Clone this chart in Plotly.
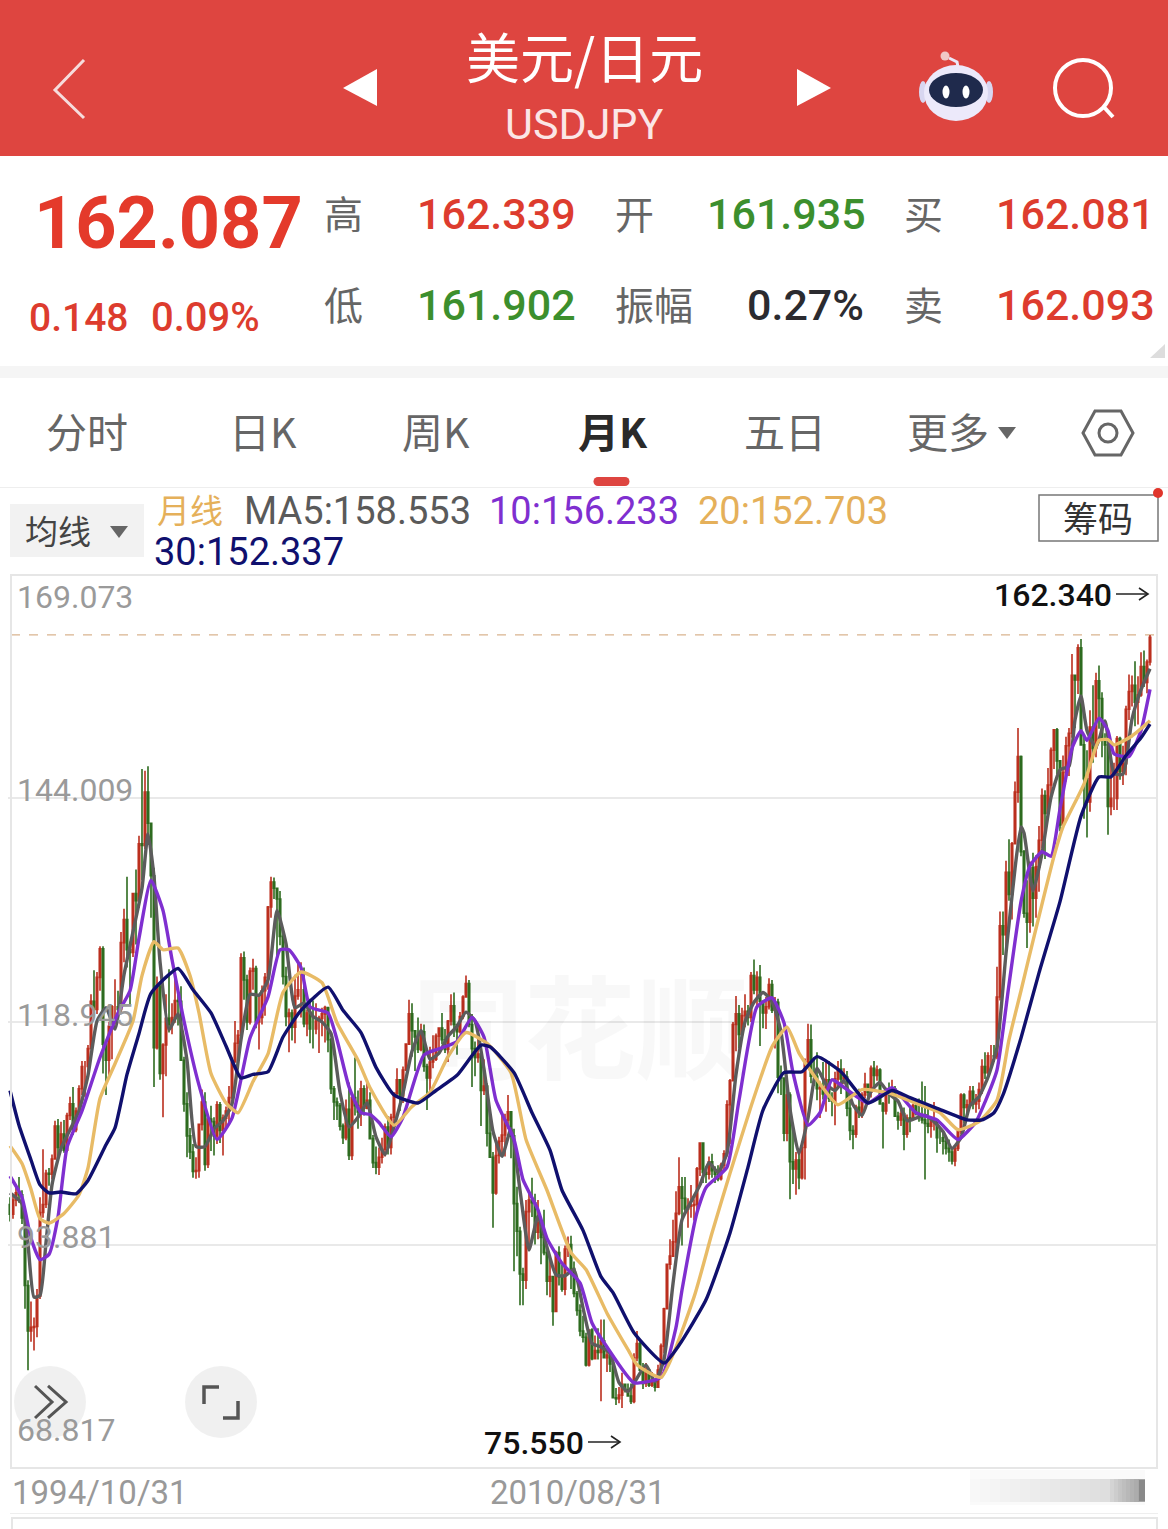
import plotly.graph_objects as go

# ---------- data (monthly USD/JPY candles, 1994/10 .. 2026/06) ----------
opens = [
 98.4,97.3,98.9,
 99.7,99.5,96.9,89.3,84.2,84.6,84.7,88.1,97.5,98.4,101.9,101.8,
 103.5,107.2,104.8,106.3,104.5,108.4,109.7,106.8,108.9,111.4,113.9,113.9,
 115.9,121.2,120.3,123.9,127.1,116.4,114.6,118.4,120.6,120.6,120.3,127.8,
 130.4,127.0,126.7,133.3,132.5,138.9,138.7,144.7,141.2,135.3,116.0,122.9,
 113.1,116.3,119.3,118.6,119.4,121.3,121.2,114.6,109.7,106.1,104.3,102.1,
 102.2,107.4,109.9,102.9,108.0,107.7,106.1,109.6,106.7,108.1,108.9,110.4,
 114.4,116.5,117.4,126.1,123.6,118.9,124.6,124.9,118.9,119.4,122.4,123.9,
 131.8,134.6,133.9,132.7,128.5,124.0,119.5,119.9,118.3,121.8,122.5,122.5,
 118.7,119.9,118.1,118.1,119.0,119.3,119.8,120.5,116.9,111.4,109.9,109.5,
 107.2,105.9,109.1,103.9,110.4,109.5,108.8,111.4,109.2,110.1,105.8,103.1,
 102.6,103.7,104.6,107.1,104.8,108.2,110.9,112.4,110.6,113.5,116.4,119.8,
 117.9,117.2,115.8,117.8,113.9,112.6,114.4,114.7,117.3,118.2,116.9,115.8,
 119.0,120.7,118.6,117.8,119.5,121.7,123.2,118.6,115.9,114.9,115.3,111.2,
 111.7,106.4,103.7,99.7,103.9,105.5,106.2,107.9,108.8,106.1,98.5,95.4,
 90.6,89.9,97.6,98.9,98.6,95.3,96.4,94.7,93.0,89.8,90.3,86.4,
 93.0,90.3,88.9,93.4,93.9,91.2,88.4,86.5,84.2,83.5,80.4,84.3,
 81.1,82.0,81.8,83.1,81.2,81.5,80.5,76.7,76.6,77.0,78.2,77.6,
 76.9,76.3,81.2,82.8,79.8,78.3,79.8,78.1,78.4,77.9,79.8,82.5,
 86.7,91.7,92.6,94.2,97.4,100.4,99.1,97.9,98.2,98.3,98.4,102.4,
 105.3,102.0,101.8,103.2,102.2,101.8,101.3,102.8,104.1,109.6,112.3,118.6,
 119.8,117.5,119.6,120.1,119.4,124.1,122.5,123.9,121.2,119.9,120.6,123.1,
 120.2,121.1,112.7,112.6,106.4,110.7,103.2,102.4,103.4,101.4,104.8,114.4,
 116.9,112.8,112.8,111.4,111.5,110.8,112.4,110.3,110.0,112.5,113.6,112.5,
 112.7,109.2,106.7,106.3,109.3,108.8,110.7,111.9,111.0,113.7,112.9,113.5,
 109.7,108.9,111.4,110.8,111.4,108.3,107.9,108.6,106.3,108.1,108.0,109.5,
 108.6,108.4,107.9,107.5,107.2,107.8,107.9,105.9,105.9,105.5,104.7,104.3,
 103.3,104.7,106.6,110.7,109.3,109.6,111.1,109.7,110.0,111.3,113.9,113.2,
 115.1,115.1,115.0,121.7,129.7,128.7,135.7,133.2,138.9,144.7,148.7,138.0,
 131.1,130.1,136.2,132.8,136.3,139.3,144.3,142.3,145.5,149.4,151.7,148.2,
 141.0,146.9,149.9,151.3,157.8,157.3,160.9,150.0,146.2,143.6,152.0,149.6,
 157.2,155.2,150.6,150.0,143.1,144.0,144.0,150.7,147.0,147.9,154.0,156.0,
 156.7,154.8,155.6,158.8,157.0,159.3,
]
highs = [
 99.2,99.3,100.5,
 101.5,100.0,97.6,89.9,87.5,85.7,88.9,99.2,104.6,102.3,102.5,104.0,
 107.8,108.0,107.7,107.9,108.7,110.5,111.6,109.3,111.8,114.5,114.5,116.3,
 122.0,124.7,124.5,127.4,127.4,116.9,118.9,120.8,123.7,122.4,129.0,131.6,
 135.2,127.9,133.4,136.0,139.8,147.3,147.1,147.6,139.2,136.2,124.0,123.4,
 116.5,122.0,124.8,121.0,124.2,122.4,122.9,115.0,111.0,107.0,105.2,103.7,
 107.5,111.3,111.0,108.5,109.5,108.2,110.0,109.9,108.5,109.4,111.7,114.9,
 119.0,118.0,126.6,126.8,124.2,125.0,126.0,125.2,122.0,123.0,124.4,131.9,
 135.2,135.1,133.9,133.6,128.8,125.1,120.4,120.3,124.2,125.6,125.6,125.0,
 120.3,121.5,121.3,121.0,119.6,120.5,120.7,120.3,117.1,111.7,110.4,109.8,
 107.5,110.2,112.1,110.5,114.9,111.2,112.3,111.8,112.3,111.0,106.2,104.9,
 104.8,105.9,107.5,108.3,108.6,111.0,113.7,112.4,113.9,116.5,121.4,121.0,
 118.0,119.4,118.7,118.6,114.2,116.1,117.4,117.6,118.3,119.9,118.1,119.1,
 122.0,122.2,118.7,120.0,121.9,124.1,123.6,119.8,116.7,117.9,115.4,114.7,
 112.0,108.7,104.3,105.7,106.0,108.6,108.6,110.7,108.9,106.9,100.4,95.9,
 91.3,98.9,99.7,101.4,99.6,98.9,96.4,97.8,93.3,92.3,90.3,93.2,
 93.7,91.6,93.8,94.8,94.9,92.0,88.7,87.2,85.9,84.0,84.4,84.5,
 83.7,84.5,85.5,85.5,82.2,81.6,81.0,77.8,77.9,79.5,78.3,78.3,
 78.3,81.7,84.2,83.0,80.6,80.6,79.8,79.6,78.8,80.4,82.8,86.8,
 91.7,94.5,96.7,99.9,103.7,101.5,101.5,99.1,100.6,99.0,102.6,105.4,
 105.4,102.7,103.8,104.1,102.7,102.8,103.1,104.5,110.1,112.5,118.9,121.8,
 120.8,120.5,122.0,120.8,124.5,125.9,124.6,125.3,121.3,121.7,123.8,123.6,
 121.7,121.5,114.0,112.0,111.4,111.0,107.5,104.3,104.2,105.5,114.8,118.7,
 118.6,114.9,115.5,112.2,114.4,114.5,114.5,111.0,113.3,114.5,114.7,113.7,
 113.4,110.5,107.3,109.6,111.4,111.0,113.2,111.8,114.0,114.5,114.0,113.7,
 109.9,111.5,112.1,112.4,111.7,108.8,109.3,109.3,108.5,109.3,109.7,109.7,
 110.3,112.2,111.7,109.4,108.1,109.9,107.5,106.9,106.5,106.0,105.7,104.7,
 105.0,106.7,110.9,110.9,110.2,111.7,111.7,110.8,112.1,114.7,115.5,115.5,
 116.3,116.3,125.1,131.3,131.3,137.0,139.4,139.1,145.9,151.9,148.8,138.2,
 134.8,136.9,137.9,137.6,140.9,145.1,144.9,147.4,149.7,151.7,151.9,148.3,
 148.8,150.9,151.9,160.2,157.7,161.3,161.9,150.9,149.4,153.9,156.7,158.1,
 158.9,155.9,151.3,150.5,148.6,148.0,151.0,150.9,149.9,154.4,157.9,157.8,
 159.4,157.7,160.4,160.6,159.6,162.34,
]
lows = [
 96.5,96.8,98.2,
 98.6,96.2,86.7,79.8,83.0,82.0,83.5,87.8,96.9,98.0,100.5,101.2,
 103.5,103.5,104.6,104.2,104.3,107.9,106.2,106.5,108.4,110.7,110.5,113.2,
 115.8,119.5,119.8,122.4,113.1,110.7,112.5,114.7,118.6,119.3,120.0,125.6,
 125.0,120.7,126.2,127.6,131.7,134.8,138.3,139.7,130.6,111.6,115.8,112.4,
 108.2,112.8,117.7,117.5,118.8,118.5,114.6,108.8,103.7,103.5,101.4,101.3,
 101.4,106.7,102.2,102.5,104.4,103.9,105.2,105.3,103.9,106.9,107.5,110.2,
 114.3,114.0,117.2,121.4,118.0,118.6,122.5,118.2,115.8,118.6,119.6,122.5,
 130.6,132.7,126.0,127.5,123.1,118.4,115.5,116.8,116.5,121.4,119.4,118.3,
 117.3,116.5,115.9,117.5,115.4,117.3,116.6,115.5,110.8,107.9,107.9,106.7,
 105.2,105.6,103.4,103.4,108.4,106.9,107.2,108.4,109.1,105.7,102.5,101.8,
 101.7,103.0,103.8,104.0,104.0,106.7,110.6,108.9,109.8,113.4,116.3,115.0,
 113.4,115.4,115.6,113.3,109.0,111.0,113.7,114.5,115.5,116.4,115.4,114.4,
 118.5,117.2,115.2,117.6,119.2,121.6,118.3,111.6,112.8,114.3,107.2,110.7,
 104.9,103.7,95.8,99.5,103.0,104.1,103.8,106.9,103.6,90.9,92.6,87.1,
 87.1,88.9,93.6,97.0,93.9,94.5,91.7,92.7,88.2,88.0,84.8,86.3,
 89.3,88.6,88.2,92.5,88.9,88.0,85.9,83.6,82.9,80.2,80.2,80.9,
 81.5,81.0,76.3,81.1,79.6,79.6,76.7,75.9,76.1,75.55,77.3,77.4,
 76.0,76.1,80.8,79.7,77.7,77.9,77.9,77.9,77.4,77.9,79.0,81.7,
 86.6,91.1,92.6,92.6,97.2,93.8,97.6,95.8,96.9,96.6,97.6,101.6,
 100.8,100.8,101.2,101.4,100.8,101.0,101.1,102.3,103.8,105.2,112.3,115.6,
 115.9,116.9,118.3,118.5,118.9,122.0,120.4,116.2,118.2,118.1,120.3,119.9,
 115.9,110.9,110.7,105.5,105.5,99.0,100.7,99.5,100.1,101.2,101.2,113.6,
 112.0,111.7,110.1,108.1,110.2,108.8,109.9,108.3,107.3,111.6,110.8,111.9,
 108.3,105.6,104.6,105.9,108.1,108.1,110.3,109.8,110.4,111.4,112.3,109.6,
 104.7,108.5,109.7,110.8,108.3,106.8,107.2,104.5,105.9,106.5,107.9,108.4,
 107.7,107.5,101.2,106.4,105.9,106.7,104.2,105.2,104.0,104.0,103.2,102.9,
 102.7,104.4,106.3,107.5,108.6,109.2,109.1,108.7,109.1,110.8,112.5,112.6,
 113.5,114.4,114.7,121.3,126.4,126.9,132.5,130.4,138.9,143.5,137.5,130.6,
 127.2,128.9,129.6,130.6,133.5,138.4,137.2,141.7,144.4,147.3,146.7,140.3,
 140.8,145.9,146.5,150.8,151.9,155.7,150.0,141.7,139.6,142.5,148.0,148.6,
 151.8,148.6,146.5,139.9,142.1,142.7,142.7,146.1,145.5,146.6,152.8,154.3,
 152.1,152.3,155.4,156.5,155.8,158.9,
]
closes = [
 97.3,98.9,99.7,
 99.5,96.9,89.3,84.2,84.6,84.7,88.1,97.5,98.4,101.9,101.8,103.5,
 107.2,104.8,106.3,104.5,108.4,109.7,106.8,108.9,111.4,113.9,113.9,115.9,
 121.2,120.3,123.9,127.1,116.4,114.6,118.4,120.6,120.6,120.3,127.8,130.4,
 127.0,126.7,133.3,132.5,138.9,138.7,144.7,141.2,135.3,116.0,122.9,113.1,
 116.3,119.3,118.6,119.4,121.3,121.2,114.6,109.7,106.1,104.3,102.1,102.2,
 107.4,109.9,102.9,108.0,107.7,106.1,109.6,106.7,108.1,108.9,110.4,114.4,
 116.5,117.4,126.1,123.6,118.9,124.6,124.9,118.9,119.4,122.4,123.9,131.8,
 134.6,133.9,132.7,128.5,124.0,119.5,119.9,118.3,121.8,122.5,122.5,118.7,
 119.9,118.1,118.1,119.0,119.3,119.8,120.5,116.9,111.4,109.9,109.5,107.2,
 105.9,109.1,103.9,110.4,109.5,108.8,111.4,109.2,110.1,105.8,103.1,102.6,
 103.7,104.6,107.1,104.8,108.2,110.9,112.4,110.6,113.5,116.4,119.8,117.9,
 117.2,115.8,117.8,113.9,112.6,114.4,114.7,117.3,118.2,116.9,115.8,119.0,
 120.7,118.6,117.8,119.5,121.7,123.2,118.6,115.9,114.9,115.3,111.2,111.7,
 106.4,103.7,99.7,103.9,105.5,106.2,107.9,108.8,106.1,98.5,95.4,90.6,
 89.9,97.6,98.9,98.6,95.3,96.4,94.7,93.0,89.8,90.3,86.4,93.0,
 90.3,88.9,93.4,93.9,91.2,88.4,86.5,84.2,83.5,80.4,84.3,81.1,
 82.0,81.8,83.1,81.2,81.5,80.5,76.7,76.6,77.0,78.2,77.6,76.9,
 76.3,81.2,82.8,79.8,78.3,79.8,78.1,78.4,77.9,79.8,82.5,86.7,
 91.7,92.6,94.2,97.4,100.4,99.1,97.9,98.2,98.3,98.4,102.4,105.3,
 102.0,101.8,103.2,102.2,101.8,101.3,102.8,104.1,109.6,112.3,118.6,119.8,
 117.5,119.6,120.1,119.4,124.1,122.5,123.9,121.2,119.9,120.6,123.1,120.2,
 121.1,112.7,112.6,106.4,110.7,103.2,102.4,103.4,101.4,104.8,114.4,116.9,
 112.8,112.8,111.4,111.5,110.8,112.4,110.3,110.0,112.5,113.6,112.5,112.7,
 109.2,106.7,106.3,109.3,108.8,110.7,111.9,111.0,113.7,112.9,113.5,109.7,
 108.9,111.4,110.8,111.4,108.3,107.9,108.6,106.3,108.1,108.0,109.5,108.6,
 108.4,107.9,107.5,107.2,107.8,107.9,105.9,105.9,105.5,104.7,104.3,103.3,
 104.7,106.6,110.7,109.3,109.6,111.1,109.7,110.0,111.3,113.9,113.2,115.1,
 115.1,115.0,121.7,129.7,128.7,135.7,133.2,138.9,144.7,148.7,138.0,131.1,
 130.1,136.2,132.8,136.3,139.3,144.3,142.3,145.5,149.4,151.7,148.2,141.0,
 146.9,149.9,151.3,157.8,157.3,160.9,150.0,146.2,143.6,152.0,149.6,157.2,
 155.2,150.6,150.0,143.1,144.0,144.0,150.7,147.0,147.9,154.0,156.0,156.7,
 154.8,155.6,158.8,157.0,159.3,162.087,
]

ma5_idx = [0,4,6,8,10,12,14,17,20,23,26,29,32,35,38,41,44,46,48,50,53,56,59,62,65,68,71,74,77,80,83,86,89,92,95,98,101,104,107,110,113,116,119,122,125,128,131,134,137,140,143,146,149,152,155,158,161,164,167,170,173,176,179,182,185,188,191,194,197,200,203,206,209,212,215,218,221,224,227,230,233,236,239,242,245,248,251,254,257,260,263,266,269,272,275,278,281,284,287,290,293,296,299,302,305,308,311,314,317,320,323,326,329,332,335,337,338,341,344,347,350,353,355,357,359,362,365,368,371,374,377,380]
ma5_val = [99.7,98.5,93.9,88.0,88.2,94.1,100.6,104.7,106.8,108.9,112.9,119.0,120.5,118.1,124.2,129.0,133.9,140.0,135.2,125.7,118.0,119.8,114.6,104.9,104.9,106.9,107.8,109.7,116.9,122.0,121.9,123.6,131.4,127.7,120.5,121.0,119.5,118.9,117.6,111.0,107.1,108.2,109.8,106.0,104.0,107.1,110.9,115.6,117.9,114.7,115.4,117.3,118.4,120.0,119.0,113.6,106.6,103.8,106.9,100.0,93.3,97.1,93.6,90.5,90.4,91.1,86.8,82.8,82.4,81.7,78.4,77.4,78.9,80.4,78.5,81.0,89.5,96.7,98.7,100.6,103.1,102.0,104.2,113.0,118.9,121.1,122.2,121.2,117.8,109.1,104.1,108.1,113.7,111.9,111.2,112.3,109.6,108.4,111.1,112.1,110.8,110.0,107.8,108.1,108.4,107.7,106.6,104.7,105.9,109.5,110.5,112.7,116.0,126.6,136.1,140.8,140.1,133.6,137.8,144.1,147.2,147.6,152.8,155.5,151.6,149.7,152.7,146.8,146.7,152.9,156.2,158.553]

ma10_idx = [0,4,7,10,13,16,19,24,30,36,40,43,47,51,54,58,63,69,74,80,86,90,93,97,100,106,109,113,117,120,123,127,131,138,144,149,154,158,162,168,171,176,179,184,190,194,199,208,217,222,224,229,232,239,243,249,254,258,261,266,270,274,279,286,294,302,309,316,322,325,329,333,337,340,344,347,350,354,357,359,363,366,368,373,377,380]
ma10_val = [101.6,99.2,94.6,92.2,92.8,97.0,104.8,108.9,114.9,119.9,122.4,128.3,134.8,131.4,125.9,119.0,111.8,105.7,108.1,117.1,121.7,127.0,127.0,125.0,120.6,119.9,116.9,111.6,108.7,108.5,107.6,106.0,108.2,115.2,116.0,116.7,119.4,117.2,110.1,105.7,101.2,97.8,94.6,91.8,89.6,85.1,82.4,78.4,79.0,84.6,88.8,97.5,100.3,102.6,110.1,120.6,121.6,118.8,113.2,107.3,108.7,112.4,111.3,109.8,111.5,108.7,107.9,105.7,107.7,109.9,113.5,123.1,132.4,136.4,138.0,137.5,142.8,149.6,151.6,150.5,153.0,151.6,149.0,148.7,151.6,156.233]

ma20_idx = [0,4,7,10,13,18,23,26,30,35,41,44,48,51,56,60,63,67,72,76,81,86,91,97,104,109,116,120,128,134,140,146,152,159,167,172,179,187,192,199,206,209,217,228,234,240,247,254,259,263,269,276,284,293,301,310,316,323,329,333,337,341,348,351,358,363,366,368,374,380]
ma20_val = [105.0,103.0,100.1,96.8,96.3,97.4,99.5,102.5,110.3,114.2,119.0,124.1,127.9,127.0,127.2,124.1,119.9,113.1,109.8,108.7,112.2,115.3,122.2,124.5,123.3,118.8,114.6,111.5,107.3,109.4,111.0,115.0,117.7,116.5,113.2,105.7,100.0,93.0,91.1,86.2,82.1,80.4,79.0,88.0,95.2,101.9,109.4,116.1,118.3,115.4,112.4,109.6,111.3,110.9,109.9,108.7,106.8,107.7,110.1,116.9,122.4,128.0,137.5,140.8,145.6,150.5,150.6,150.0,151.0,152.703]

ma30_idx = [0,3,7,10,13,17,22,26,32,35,39,43,47,56,61,67,72,77,81,86,91,97,106,111,117,122,128,136,142,149,157,160,168,174,180,184,191,197,201,208,218,223,232,240,246,251,258,264,269,277,286,294,300,309,319,324,328,331,337,343,350,357,363,367,372,377,380]
ma30_val = [111.2,107.3,103.4,100.6,99.7,99.8,99.6,101.1,105.1,107.0,113.0,117.6,122.1,124.9,122.5,119.9,116.2,112.6,113.0,113.3,117.2,120.2,122.8,120.2,117.7,113.8,110.7,109.8,111.2,112.9,116.3,116.1,113.2,108.7,104.5,100.0,95.5,90.3,88.5,84.0,80.6,82.6,87.7,95.2,102.6,109.0,113.2,113.3,115.0,113.3,109.8,111.2,110.4,109.2,107.9,107.9,108.7,110.7,117.1,124.4,132.4,142.0,146.4,146.4,148.8,150.8,152.337]

y_ticks = [169.073, 144.009, 118.945, 93.881, 68.817]
y_labels = ["169.073", "144.009", "118.945", "93.881", "68.817"]
high_mark = 162.340
low_mark = 75.550
date_labels = ["1994/10/31", "2010/08/31"]

months = ["1994/10", "1994/11", "1994/12"] + [f"{y}/{m:02d}" for y in range(1995, 2026) for m in range(1, 13)] + [f"2026/{m:02d}" for m in range(1, 7)]

# ---------- figure ----------
W, H = 1168, 1529
px = lambda x: x / W
py = lambda y: 1 - y / H
CJK = "Noto Sans CJK SC"
NUM = "Roboto"
RED = "#dd3c2e"
HGREEN = "#3c8f2d"
ann = []
shapes = []

def text(x, y, s, size, color, anchor="center", family=CJK, weight=400):
    ann.append(dict(x=px(x), y=py(y), xref="paper", yref="paper", text=s, showarrow=False,
                    xanchor=anchor, yanchor="middle", font=dict(size=size, color=color, family=family, weight=weight)))

def rect(x0, y0, x1, y1, fill, line=None, lw=0, layer="below", opacity=1):
    shapes.append(dict(type="rect", xref="paper", yref="paper", x0=px(x0), x1=px(x1), y0=py(y0), y1=py(y1),
                       fillcolor=fill, opacity=opacity, layer=layer, line=dict(color=line or fill, width=lw)))

def circle(cx, cy, rx, ry, fill, line=None, lw=0, layer="above", opacity=1):
    shapes.append(dict(type="circle", xref="paper", yref="paper", x0=px(cx - rx), x1=px(cx + rx), y0=py(cy + ry), y1=py(cy - ry),
                       fillcolor=fill, opacity=opacity, layer=layer, line=dict(color=line or fill, width=lw)))

def poly(points, color, lw=3, fill=None, close=False, layer="above"):
    d = "M" + " L".join(f"{px(a):.5f},{py(b):.5f}" for a, b in points) + (" Z" if close else "")
    shapes.append(dict(type="path", xref="paper", yref="paper", path=d, layer=layer,
                       fillcolor=fill or "rgba(0,0,0,0)", line=dict(color=color, width=lw)))

# header
rect(0, 0, 1168, 156, "#de4540")
poly([(84, 60), (55, 90), (84, 118)], "#f6dcdc", 3)
poly([(343, 88), (377, 69), (377, 106)], "#ffffff", 0, "#ffffff", True)
poly([(797, 69), (831, 88), (797, 106)], "#ffffff", 0, "#ffffff", True)
text(584, 55, "美元/日元", 54, "#ffffff")
text(584, 124, "USDJPY", 43, "#fbe6e6", family=NUM)
# robot
poly([(959, 72), (957, 62), (949, 58)], "#ece8f8", 3)
circle(945, 56, 4.5, 4.5, "#f0c9c6")
circle(923, 92, 4, 11, "#d8d6f0")
circle(989, 92, 4, 11, "#d8d6f0")
circle(956, 93, 32, 28, "#ece9fa")
circle(956, 90, 27, 17, "#1f2a4c")
circle(946, 92, 3.5, 6.5, "#ffffff")
circle(966, 92, 3.5, 6.5, "#ffffff")
# search
circle(1083, 88, 28, 28, "rgba(0,0,0,0)", "#ffffff", 4)
poly([(1103, 106), (1113, 117)], "#ffffff", 4)

# quote panel
text(168, 224, "162.087", 72, "#e43a2b", family=NUM, weight=700)
text(27, 318, "0.148", 39, RED, "left", NUM, 500)
text(149, 318, "0.09%", 40, RED, "left", NUM, 500)
for x, y, s in [(343, 212, "高"), (634, 212, "开"), (923, 212, "买"), (343, 303, "低"), (654, 303, "振幅"), (923, 303, "卖")]:
    text(x, y, s, 39, "#666666")
for x, y, s, c in [(496, 214, "162.339", RED), (786, 214, "161.935", HGREEN), (1075, 214, "162.081", RED),
                   (496, 305, "161.902", HGREEN), (805, 305, "0.27%", "#2b2b30"), (1075, 305, "162.093", RED)]:
    text(x, y, s, 43, c, family=NUM, weight=500)
poly([(1165, 344), (1165, 358), (1150, 358)], "#dddddd", 0, "#dddddd", True)
rect(0, 366, 1168, 378, "#f5f5f5")

# tabs
for x, s, c, w in [(87, "分时", "#666666", 400), (263, "日K", "#666666", 400), (436, "周K", "#666666", 400),
                   (613, "月K", "#2a2a2a", 700), (785, "五日", "#666666", 400), (948, "更多", "#666666", 400)]:
    text(x, 430, s, 41, c, weight=w)
poly([(998, 427), (1016, 427), (1007, 439)], "#666666", 0, "#666666", True)
poly([(1083, 433), (1095, 411), (1121, 411), (1133, 433), (1121, 455), (1095, 455)], "#666666", 3, None, True)
circle(1108, 433, 9, 9, "rgba(0,0,0,0)", "#666666", 3)
rect(598, 477, 625, 486, "#de4540")
circle(598, 481.5, 4.5, 4.5, "#de4540")
circle(625, 481.5, 4.5, 4.5, "#de4540")
rect(0, 487, 1168, 488, "#eeeeee")

# indicator row
rect(10, 504, 144, 557, "#f2f2f2")
text(58, 530, "均线", 33, "#444444")
poly([(110, 526), (128, 526), (119, 538)], "#666666", 0, "#666666", True)
text(155, 509, "月线", 33, "#e5b05a", "left")
text(242, 511, "MA5:158.553", 38, "#5a5a5a", "left", NUM)
text(487, 511, "10:156.233", 38, "#7f2fd0", "left", NUM)
text(696, 511, "20:152.703", 38, "#e5b05a", "left", NUM)
text(152, 552, "30:152.337", 38, "#10106e", "left", NUM)
rect(1039, 495, 1158, 541, "#ffffff", "#777777", 1.5)
text(1098, 516, "筹码", 35, "#333333")
circle(1158, 493, 5, 5, "#e0352b")

# y labels, on top of the plot
for v, lab, dy in zip(y_ticks, y_labels, [22, -8, -7, -8, -38]):
    ann.append(dict(x=px(15), xref="paper", xanchor="left", y=v, yref="y", yshift=-dy, yanchor="middle",
                    text=lab, showarrow=False, font=dict(size=32, color="#9a9a9a", family=NUM)))
ann.append(dict(x=px(1114), xref="paper", xanchor="right", y=high_mark, yref="y", yshift=40, yanchor="middle",
                text=f"{high_mark:.3f}", showarrow=False, font=dict(size=32, color="#111111", family=NUM, weight=500)))
ann.append(dict(x=px(586), xref="paper", xanchor="right", y=low_mark, yref="y", yshift=-35, yanchor="middle",
                text=f"{low_mark:.3f}", showarrow=False, font=dict(size=32, color="#111111", family=NUM, weight=500)))
# arrows following the high and low labels
for ax0, ax1, ay in [(1116, 1148, 594), (588, 620, 1442)]:
    poly([(ax0, ay), (ax1, ay)], "#222222", 1.6)
    poly([(ax1 - 9, ay - 6), (ax1, ay), (ax1 - 9, ay + 6)], "#222222", 1.6)
# watermark
text(580, 1022, "同花顺", 112, "rgba(0,0,0,0.028)", weight=700)

# date labels
ann.append(dict(x=months[0], xref="x", xanchor="left", y=py(1492), yref="paper", yanchor="middle",
                text=date_labels[0], showarrow=False, font=dict(size=33, color="#999999", family=NUM)))
ann.append(dict(x=months[190], xref="x", xshift=-2, xanchor="center", y=py(1492), yref="paper", yanchor="middle",
                text=date_labels[1], showarrow=False, font=dict(size=33, color="#999999", family=NUM)))

# plot frame and high line
rect(11, 575, 1157, 1468, "rgba(0,0,0,0)", "#e6e6e6", 2, "above")
shapes.append(dict(type="line", xref="paper", yref="y", x0=px(11), x1=px(1157), y0=high_mark, y1=high_mark,
                   layer="below", line=dict(color="#d9b48f", width=1.2, dash="dash")))

# floating buttons
circle(50, 1402, 36, 36, "#eeeeee", opacity=0.9)
circle(221, 1402, 36, 36, "#eeeeee", opacity=0.9)
poly([(35, 1386), (52, 1402), (35, 1418)], "#555555", 3)
poly([(48, 1386), (66, 1402), (48, 1418)], "#555555", 3)
poly([(204, 1404), (204, 1387), (219, 1387)], "#555555", 3.5)
poly([(223, 1418), (238, 1418), (238, 1401)], "#555555", 3.5)

# blurred end of the date strip
rect(970, 1470, 1145, 1505, "rgba(0,0,0,0.02)")
for i in range(16):
    rect(970 + i * 10, 1479, 1145, 1502, "rgba(80,80,80,0.012)")
for i in range(8):
    rect(1110 + i * 4, 1479, 1145, 1502, "rgba(70,70,70,0.05)")
rect(1139, 1480, 1145, 1501, "rgba(70,70,70,0.3)")

# next panel's edge
rect(10, 1513, 1158, 1514, "#eeeeee")
rect(12, 1518, 1157, 1535, "#ffffff", "#e6e6e6", 2)

fig = go.Figure()
fig.add_trace(go.Candlestick(
    x=months, open=opens, high=highs, low=lows, close=closes, name="月K", whiskerwidth=0,
    increasing=dict(line=dict(color="#bb2f1e", width=1.6), fillcolor="#bb2f1e"),
    decreasing=dict(line=dict(color="#2d6b1f", width=1.6), fillcolor="#2d6b1f"),
))
for name, idx, val, color, lw in [
    ("MA5", ma5_idx, ma5_val, "#5c5c5c", 3.4),
    ("MA10", ma10_idx, ma10_val, "#7f2fd0", 3.4),
    ("MA20", ma20_idx, ma20_val, "#e8bb66", 3.4),
    ("MA30", ma30_idx, ma30_val, "#10106e", 3.4),
]:
    fig.add_trace(go.Scatter(x=[months[i] for i in idx], y=val, mode="lines", name=name,
                             line=dict(color=color, width=lw, shape="spline", smoothing=0.5)))

fig.update_layout(
    width=W, height=H, margin=dict(l=0, r=0, t=0, b=0, pad=0), showlegend=False,
    paper_bgcolor="#ffffff", plot_bgcolor="rgba(0,0,0,0)", hovermode=False, boxgap=0.3,
    xaxis=dict(type="category", categoryorder="array", categoryarray=months, domain=[px(8), px(1157)],
               range=[-0.667, 382.333], showgrid=False, showticklabels=False, ticks="", zeroline=False,
               rangeslider=dict(visible=False), fixedrange=True),
    yaxis=dict(domain=[py(1468), py(575)], range=[y_ticks[-1], y_ticks[0]], tickvals=y_ticks,
               showticklabels=False, ticks="", showgrid=True, gridcolor="#e9e9e9", gridwidth=1.5, zeroline=False, fixedrange=True),
    shapes=shapes, annotations=ann,
)
fig.write_html("out.html", post_script="document.body.style.margin='0';document.body.style.overflow='hidden';",
               config={"displayModeBar": False})
